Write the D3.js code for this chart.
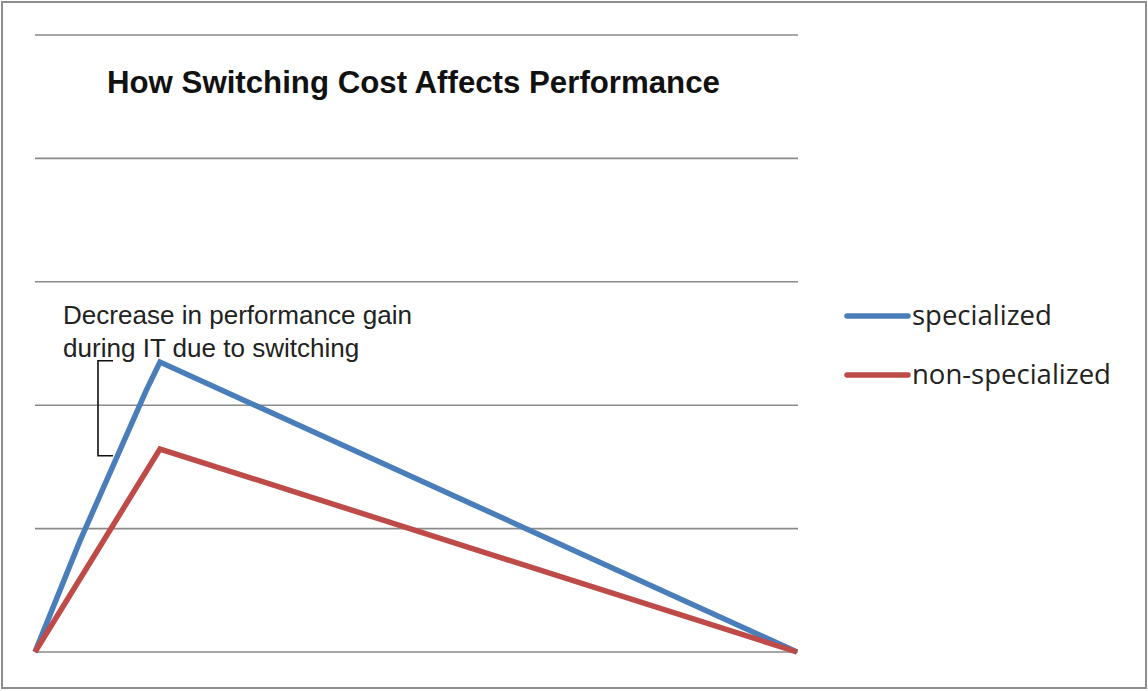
<!DOCTYPE html>
<html>
<head>
<meta charset="utf-8">
<script src="https://cdn.jsdelivr.net/npm/d3@7"></script>
<style>
  html, body { margin: 0; padding: 0; background: #fff; }
  svg { display: block; }
</style>
</head>
<body>
<svg id="chart" width="1148" height="691"></svg>
<script>
// Performance over an iteration (x: progress 0–100, y: performance units)
const seriesNames = ["specialized", "non-specialized"];
const specialized = [
  { x: 0, y: 0 },
  { x: 5.9, y: 0.9 },
  { x: 14.6, y: 2.12 },
  { x: 16.4, y: 2.35 },
  { x: 100, y: 0 }
];
const nonSpecialized = [
  { x: 0, y: 0 },
  { x: 16.4, y: 1.645 },
  { x: 100, y: 0 }
];
const gridValues = [0, 1, 2, 3, 4, 5];
const titleText = "How Switching Cost Affects Performance";
const noteLines = ["Decrease in performance gain", "during IT due to switching"];
// span of the bracket beside the annotation, in performance units
const bracketSpan = [2.36, 1.59];

const colors = ["#4a7ebb", "#be4b48"];
const svg = d3.select("#chart");

// outer frame
svg.append("rect")
  .attr("x", 2).attr("y", 2).attr("width", 1144).attr("height", 686)
  .attr("fill", "#fff").attr("stroke", "#8e8e8e").attr("stroke-width", 2);

const x = d3.scaleLinear().domain([0, 100]).range([35, 797]);
const y = d3.scaleLinear().domain([0, 5]).range([652, 35]);

// horizontal gridlines
svg.append("g").selectAll("line").data(gridValues).join("line")
  .attr("x1", x(0)).attr("x2", x(100) + 1)
  .attr("y1", d => y(d)).attr("y2", d => y(d))
  .attr("stroke", "#8a8a8a").attr("stroke-width", 1.6);

// helper: fit a text element to a target width by adjusting font size
function fitWidth(sel, target) {
  const node = sel.node();
  const fs = parseFloat(sel.attr("font-size"));
  const w = node.getComputedTextLength();
  sel.attr("font-size", (fs * target / w).toFixed(2));
}

// title
const title = svg.append("text")
  .attr("x", 107).attr("y", 93)
  .attr("font-family", "Liberation Sans, Arial, sans-serif")
  .attr("font-weight", "bold").attr("font-size", 24)
  .attr("fill", "#111")
  .text(titleText);
fitWidth(title, 613);

// lines
const line = d3.line().x(d => x(d.x)).y(d => y(d.y));
[specialized, nonSpecialized].forEach((data, i) => {
  svg.append("path")
    .datum(data)
    .attr("d", line)
    .attr("fill", "none")
    .attr("stroke", colors[i])
    .attr("stroke-width", 5.5)
    .attr("stroke-linejoin", "miter")
    .attr("stroke-linecap", "butt");
});
// red drawn over blue where they meet at the end
svg.selectAll("path").filter((d, i) => i === 1).raise();

// annotation
const noteWidths = [349, 295];
const noteBase = [324, 357];
noteLines.forEach((t, i) => {
  const txt = svg.append("text")
    .attr("x", 63).attr("y", noteBase[i])
    .attr("font-family", "Liberation Sans, Arial, sans-serif")
    .attr("font-size", 20).attr("fill", "#222")
    .text(t);
  if (i === 0) fitWidth(txt, noteWidths[0]);
});
// second line uses the same size as the first
const fsNote = svg.selectAll("text").filter(function() { return this.textContent === noteLines[0]; }).attr("font-size");
svg.selectAll("text").filter(function() { return this.textContent === noteLines[1]; }).attr("font-size", fsNote);

// bracket
const bx = 98, bw = 15;
svg.append("path")
  .attr("d", `M${bx + bw},${y(bracketSpan[0])}H${bx}V${y(bracketSpan[1])}H${bx + bw}`)
  .attr("fill", "none").attr("stroke", "#111").attr("stroke-width", 1.6);

// legend
const legendY = [316, 375];
seriesNames.forEach((name, i) => {
  svg.append("line")
    .attr("x1", 847).attr("x2", 908)
    .attr("y1", legendY[i]).attr("y2", legendY[i])
    .attr("stroke", colors[i]).attr("stroke-width", 5.5)
    .attr("stroke-linecap", "round");
  const t = svg.append("text")
    .attr("x", 912).attr("y", legendY[i] + 9)
    .attr("font-family", "Open Sans, DejaVu Sans, sans-serif")
    .attr("font-size", 22).attr("fill", "#222")
    .text(name);
  if (i === 1) fitWidth(t, 199);
});
const fsLeg = svg.selectAll("text").filter(function() { return this.textContent === seriesNames[1]; }).attr("font-size");
svg.selectAll("text").filter(function() { return this.textContent === seriesNames[0]; }).attr("font-size", fsLeg);
</script>
</body>
</html>
